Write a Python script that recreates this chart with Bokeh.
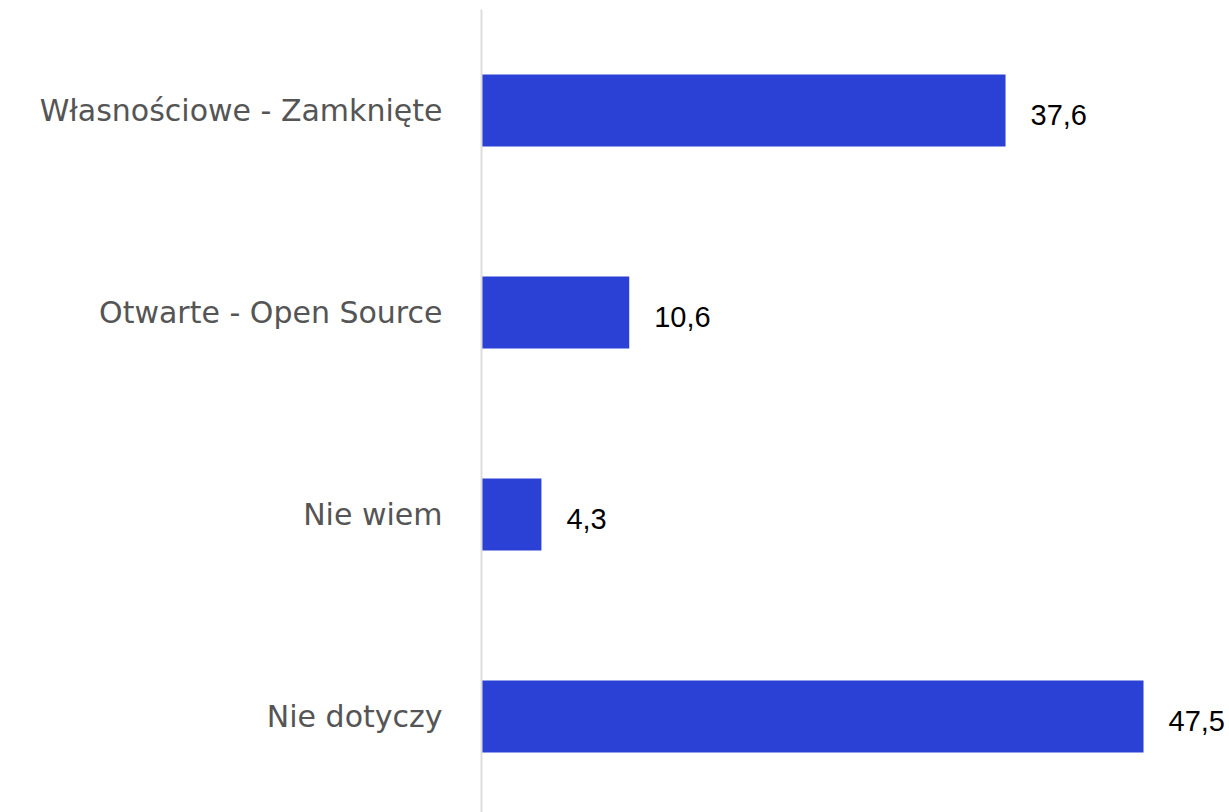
from bokeh.plotting import figure
from bokeh.models import ColumnDataSource, Range1d, FixedTicker, LabelSet
from bokeh.core.properties import value
from bokeh.embed import file_html
from bokeh.resources import INLINE

categories = ["Własnościowe - Zamknięte", "Otwarte - Open Source", "Nie wiem", "Nie dotyczy"]
values = [37.6, 10.6, 4.3, 47.5]
value_labels = ["37,6", "10,6", "4,3", "47,5"]

pos = list(range(len(categories)))
src = ColumnDataSource(dict(y=pos, v=values, lab=value_labels, cat=categories))

p = figure(width=1229, height=812, output_backend="svg", toolbar_location=None,
           x_range=Range1d(0, 53.67), y_range=Range1d(3.475, -0.5),
           min_border_left=481, min_border_right=0, min_border_top=9, min_border_bottom=0)

p.hbar(y="y", right="v", left=0, height=0.356, source=src, fill_color="#2B40D4", line_color=None)

labels = LabelSet(x="v", y="y", text="lab", source=src, x_offset=25, y_offset=-4,
                  text_font=value("Liberation Sans"), text_font_size="29px", text_color="#000000",
                  text_baseline="middle", text_align="left")
p.add_layout(labels)

p.xaxis.visible = False
p.xgrid.visible = False
p.ygrid.visible = False
p.outline_line_color = None

ya = p.yaxis[0]
ya.ticker = FixedTicker(ticks=pos)
ya.major_label_overrides = {i: c for i, c in enumerate(categories)}
ya.major_tick_line_color = None
ya.minor_tick_line_color = None
ya.axis_line_color = "#DDDDDD"
ya.axis_line_width = 2
ya.major_label_standoff = 33
ya.major_label_text_font = "DejaVu Sans"
ya.major_label_text_font_size = "30px"
ya.major_label_text_color = "#555555"
ya.major_label_text_font_style = "normal"

open("out.html", "w").write(file_html(p, INLINE))
